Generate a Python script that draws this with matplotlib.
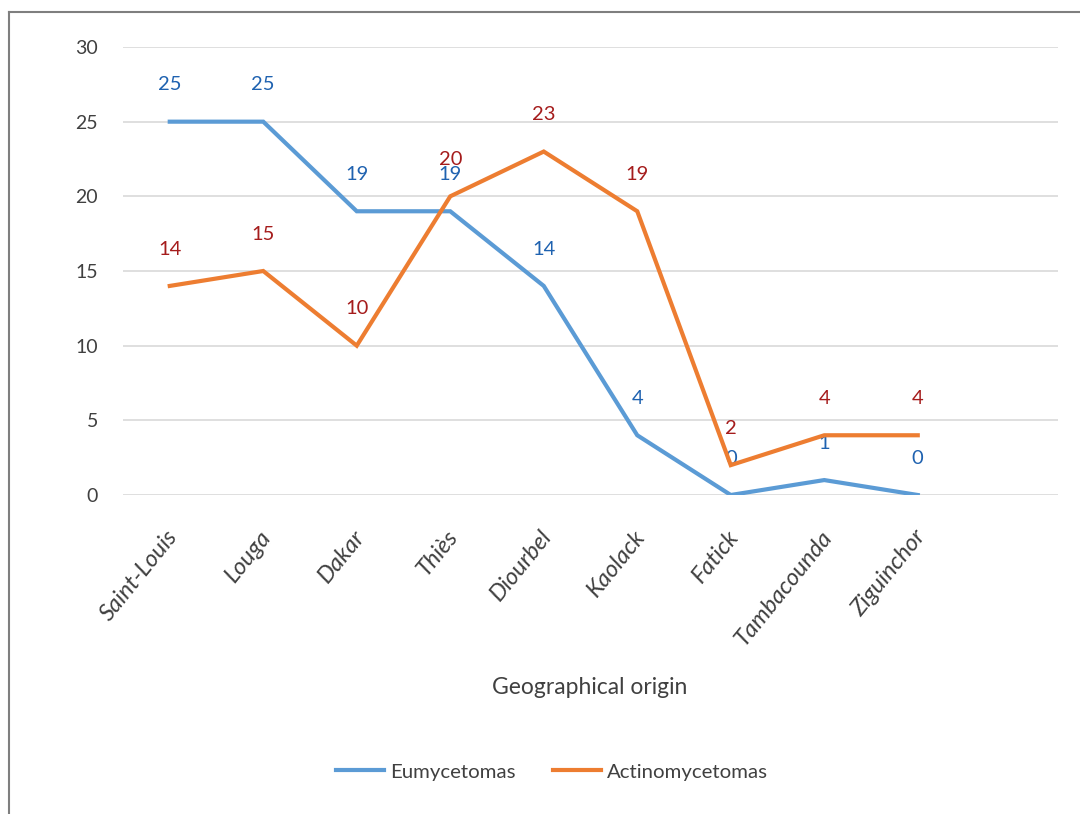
import matplotlib
matplotlib.use("Agg")
import matplotlib.pyplot as plt
from matplotlib.lines import Line2D
from matplotlib.transforms import offset_copy

categories = ["Saint-Louis", "Louga", "Dakar", "Thiès", "Diourbel", "Kaolack",
              "Fatick", "Tambacounda", "Ziguinchor"]
eumycetomas = [25, 25, 19, 19, 14, 4, 0, 1, 0]
actinomycetomas = [14, 15, 10, 20, 23, 19, 2, 4, 4]
yticks = [0, 5, 10, 15, 20, 25, 30]

plt.rcParams['font.family'] = ['Lato', 'DejaVu Sans']

BLUE = '#5B9BD5'
ORANGE = '#ED7D31'
BLUE_LBL = '#1F62B0'
RED_LBL = '#A51C1C'
TXT = '#404040'

fig = plt.figure(figsize=(10.8, 8.14), dpi=100)
ax = fig.add_axes([123/1080, 1-495/814, (1058-123)/1080, (495-47)/814])

x = list(range(len(categories)))
ax.plot(x, eumycetomas, color=BLUE, lw=3.0, solid_joinstyle='miter', zorder=3)
ax.plot(x, actinomycetomas, color=ORANGE, lw=3.0, solid_joinstyle='miter', zorder=3)

ax.set_xlim(-0.5, 9.5)
ax.set_ylim(0, 30)
ax.set_yticks(yticks)
ax.set_yticklabels([str(v) for v in yticks], fontsize=14, color=TXT)
ax.tick_params(axis='y', length=0, pad=18)
ax.set_xticks([])
ax.grid(axis='y', color='#D9D9D9', lw=1.2)
ax.set_axisbelow(True)
for s in ax.spines.values():
    s.set_visible(False)

# data labels
for xi, v in zip(x, eumycetomas):
    ax.annotate(str(v), (xi, v), xytext=(0, 26.5), textcoords='offset points',
                ha='center', va='center', fontsize=14.5, color=BLUE_LBL, zorder=2)
for xi, v in zip(x, actinomycetomas):
    ax.annotate(str(v), (xi, v), xytext=(0, 26.5), textcoords='offset points',
                ha='center', va='center', fontsize=14.5, color=RED_LBL, zorder=2)

# category labels
trans = offset_copy(ax.get_xaxis_transform(), fig=fig, x=4, y=-38, units='dots')
for xi, c in zip(x, categories):
    ax.text(xi, 0, c, transform=trans, rotation=51, rotation_mode='anchor',
            ha='right', va='center', fontsize=17, color=TXT, style='italic')

fig.text(590/1080, 1-688/814, "Geographical origin", ha='center', va='center',
         fontsize=16.5, color=TXT)

handles = [Line2D([], [], color=BLUE, lw=3.0), Line2D([], [], color=ORANGE, lw=3.0)]
fig.legend(handles, ["Eumycetomas", "Actinomycetomas"], loc='center',
           bbox_to_anchor=(552/1080, 1-772/814), ncol=2, frameon=False,
           fontsize=14.7, labelcolor=TXT, handlelength=2.35, handletextpad=0.3,
           columnspacing=1.8)

# outer frame (left and top edges)
fig.add_artist(Line2D([9/1080, 9/1080], [0, 1-12/814], color='#7F7F7F', lw=1.5,
                      transform=fig.transFigure))
fig.add_artist(Line2D([9/1080, 1], [1-12/814, 1-12/814], color='#7F7F7F', lw=1.5,
                      transform=fig.transFigure))

fig.savefig("out.png", dpi=100)
